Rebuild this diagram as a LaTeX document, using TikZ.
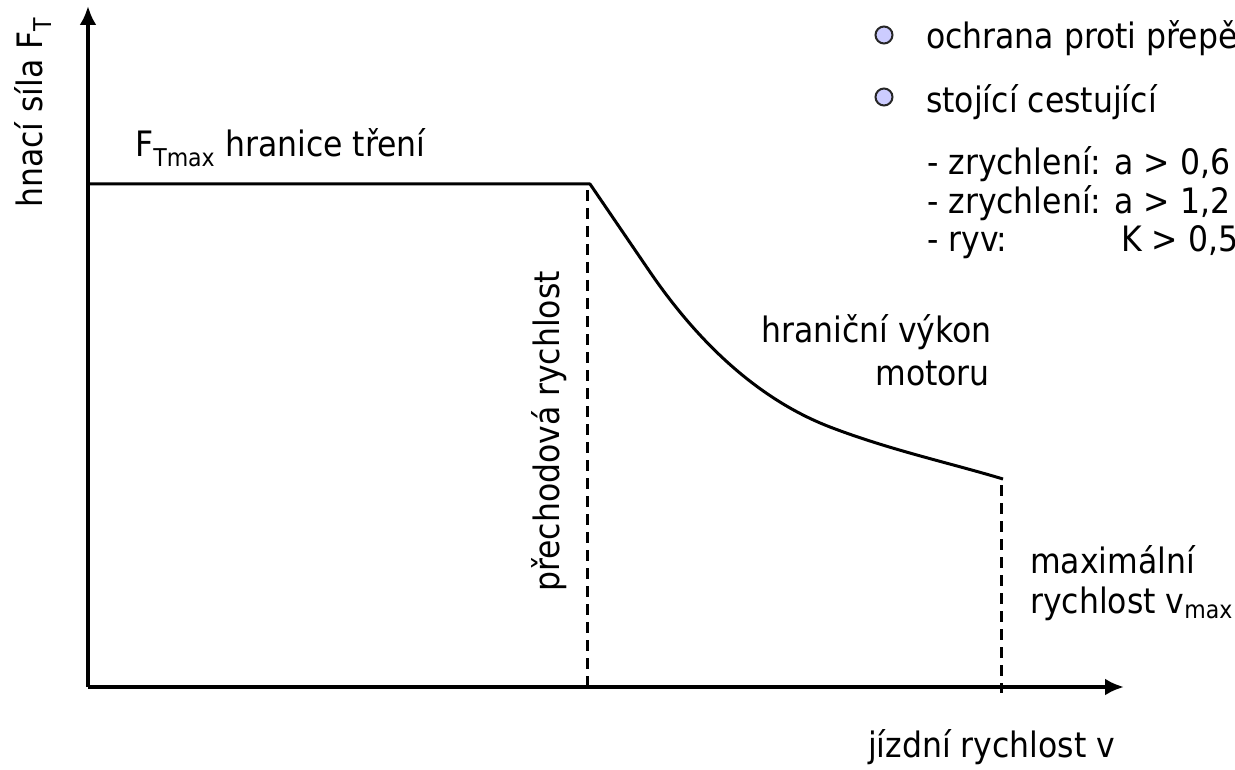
\documentclass[tikz,border=0pt]{standalone}
\usepackage{fontspec}
\IfFontExistsTF{DejaVu Sans Condensed}{\setmainfont{DejaVu Sans Condensed}}{\setmainfont{DejaVu Sans}[FakeStretch=0.88]}
\usetikzlibrary{arrows.meta}

\definecolor{bulletfill}{RGB}{204,204,255}
\tikzset{
  axisline/.style={line width=4pt, -{Latex[length=19pt,width=17pt]}},
  curveline/.style={line width=3pt},
  dashline/.style={line width=3pt, dash pattern=on 11pt off 7pt},
  lbl/.style={inner sep=0pt, font=\fontsize{35}{42}\selectfont},
  bulletdot/.style={draw=black!85, fill=bulletfill, line width=2pt}
}

\begin{document}
\begin{tikzpicture}[x=1pt, y=-1pt]
\useasboundingbox (0,0) rectangle (1235,770);
\clip (0,0) rectangle (1235,770);

% Axes
\coordinate (O) at (88,687);
\coordinate (ytip) at (88,6);
\coordinate (xtip) at (1124,687);
\draw[axisline] (O) -- (ytip);
\draw[axisline] (O) -- (xtip);

% Friction limit and power limit
\coordinate (ftop) at (88,184);
\coordinate (knee) at (590,184);
\coordinate (vmax) at (1003,479);
\draw[curveline, line join=round] (ftop) -- (knee) -- (650,272)
  .. controls (700,345) and (760,400) .. (830,427)
  .. controls (890,450) and (950,463) .. (vmax);

% Dashed verticals
\coordinate (kneebot) at (587,693);
\coordinate (vmaxbot) at (1001,693);
\draw[dashline] (587,190) -- (kneebot);
\draw[dashline] (1001,485) -- (vmaxbot);

% Axis labels
\node[lbl, rotate=90, anchor=base west] (ylab) at (42,208) {hnací síla F\textsubscript{T}};
\node[lbl, anchor=base west] (xlab) at (868,757) {jízdní rychlost v};

% Curve labels
\node[lbl, anchor=base west] (ftmax) at (135,157) {F\textsubscript{Tmax} hranice tření};
\node[lbl, rotate=90, anchor=base west] (vtrans) at (559,592) {přechodová rychlost};
\node[lbl, anchor=base east] (power1) at (992,342) {hraniční výkon};
\node[lbl, anchor=base east] (power2) at (990,385) {motoru};
\node[lbl, anchor=base west] (vmax1) at (1030,573) {maximální};
\node[lbl, anchor=base west] (vmax2) at (1030,613) {rychlost v\textsubscript{max}};

% Bullet list
\filldraw[bulletdot] (884,35) circle (8.5);
\node[lbl, anchor=base west] (item1) at (926,49) {ochrana proti přepě};
\filldraw[bulletdot] (884,97) circle (8.5);
\node[lbl, anchor=base west] (item2) at (926,113) {stojící cestující};
\node[lbl, anchor=base west] (sub1) at (927,175) {- zrychlení: a > 0,6};
\node[lbl, anchor=base west] (sub2) at (927,214) {- zrychlení: a > 1,2};
\node[lbl, anchor=base west] (sub3) at (927,252) {- ryv:};
\node[lbl, anchor=base west] (sub3b) at (1121,252) {K > 0,5};
\end{tikzpicture}
\end{document}
